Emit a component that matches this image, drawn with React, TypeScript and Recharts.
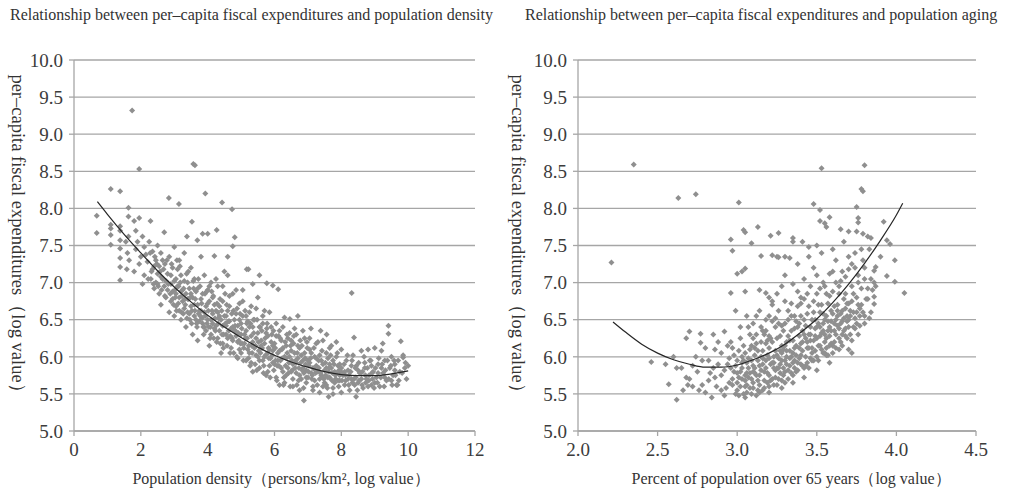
import { CartesianGrid, Scatter, ScatterChart, XAxis, YAxis } from "recharts";

const SERIF = "'Liberation Serif', 'Times New Roman', serif";
const TEXT = "#333";
const GRID = "#a6a6a6";
const DOT = "#8f8f8f";

const Y_TICKS = [5, 5.5, 6, 6.5, 7, 7.5, 8, 8.5, 9, 9.5, 10];
const DENSITY_TICKS = [0, 2, 4, 6, 8, 10, 12];
const AGING_TICKS = [2, 2.5, 3, 3.5, 4, 4.5];

const TITLE_DENSITY = "Relationship between per–capita fiscal expenditures and population density";
const TITLE_AGING = "Relationship between per–capita fiscal expenditures and population aging";
const Y_LABEL = "per–capita fiscal expenditures（log value）";
const X_LABEL_DENSITY = "Population density（persons/km², log value）";
const X_LABEL_AGING = "Percent of population over 65 years（log value）";

// [population density (log), expenditure (log)]
const densityPoints: [number, number][] = [
  [0.68, 7.9], [0.68, 7.67], [1.1, 8.26], [1.38, 8.23], [1.1, 7.78], [1.1, 7.73], [1.1, 7.64], [1.1, 7.51],
  [1.38, 7.76], [1.38, 7.7], [1.38, 7.57], [1.38, 7.46], [1.38, 7.33], [1.38, 7.21], [1.38, 7.03], [1.63, 8.01],
  [1.63, 7.89], [1.63, 7.62], [1.55, 7.55], [1.6, 7.4], [1.65, 7.3], [1.58, 7.18], [1.74, 9.32], [1.8, 7.83],
  [1.95, 7.87], [1.95, 8.53], [1.85, 7.7], [1.9, 7.55], [1.85, 7.45], [2.0, 7.35], [1.95, 7.25], [1.8, 7.15],
  [2.05, 7.62], [2.1, 7.48], [2.15, 7.38], [2.1, 7.1], [2.05, 6.98], [2.2, 7.28], [2.25, 7.55], [2.29, 7.83],
  [2.3, 7.05], [2.35, 7.42], [2.35, 7.18], [2.4, 6.92], [2.45, 7.3], [2.45, 7.0], [2.5, 7.5], [2.5, 7.12],
  [2.55, 6.85], [2.55, 7.22], [2.6, 7.4], [2.6, 6.7], [2.65, 7.05], [2.7, 7.68], [2.7, 6.95], [2.72, 7.25],
  [2.75, 6.8], [2.8, 7.12], [2.84, 8.14], [2.85, 6.6], [2.85, 7.35], [2.9, 6.98], [2.9, 6.75], [2.95, 7.2],
  [2.95, 6.88], [3.0, 7.48], [3.0, 6.55], [3.05, 7.05], [3.05, 6.68], [3.1, 6.95], [3.14, 8.06], [3.15, 7.3],
  [3.15, 6.8], [3.2, 6.5], [3.2, 7.1], [3.25, 6.9], [3.3, 7.4], [3.3, 6.65], [3.35, 6.4], [3.38, 7.62],
  [3.4, 7.0], [3.4, 6.78], [3.45, 6.58], [3.5, 7.2], [3.5, 6.85], [3.53, 7.82], [3.55, 6.3], [3.57, 8.6],
  [3.62, 8.58], [3.6, 6.7], [3.6, 7.05], [3.65, 6.5], [3.69, 7.57], [3.7, 6.92], [3.7, 6.22], [3.75, 6.62],
  [3.8, 7.35], [3.8, 6.78], [3.85, 6.45], [3.85, 7.66], [3.9, 7.1], [3.9, 6.6], [3.93, 8.2], [3.95, 6.35],
  [4.0, 6.9], [4.0, 6.72], [4.0, 7.66], [4.05, 6.15], [4.1, 6.5], [4.1, 7.0], [4.15, 6.8], [4.2, 7.36],
  [4.2, 6.38], [4.25, 6.62], [4.27, 7.71], [4.3, 6.25], [4.3, 6.95], [4.35, 6.55], [4.4, 6.05], [4.43, 8.08],
  [4.45, 6.75], [4.45, 6.42], [4.5, 7.15], [4.55, 6.3], [4.6, 6.62], [4.6, 7.35], [4.6, 7.1], [4.65, 6.48],
  [4.7, 6.12], [4.73, 7.99], [4.75, 7.49], [4.75, 6.85], [4.8, 6.35], [4.81, 7.61], [4.85, 6.58], [4.9, 5.98],
  [4.9, 6.2], [4.95, 6.72], [5.0, 6.45], [5.0, 6.05], [5.05, 6.9], [5.1, 6.3], [5.15, 6.55], [5.17, 7.18],
  [5.2, 6.1], [5.22, 7.18], [5.25, 6.4], [5.3, 5.92], [5.3, 6.68], [5.35, 6.98], [5.35, 6.2], [5.4, 6.5],
  [5.45, 6.02], [5.5, 6.32], [5.5, 6.8], [5.55, 7.1], [5.55, 5.85], [5.6, 6.15], [5.65, 6.45], [5.7, 6.0],
  [5.7, 6.62], [5.77, 6.99], [5.8, 5.8], [5.8, 6.28], [5.85, 6.1], [5.9, 6.4], [5.95, 6.96], [5.95, 5.92],
  [6.0, 6.18], [6.05, 5.72], [6.1, 6.05], [6.11, 6.91], [6.15, 6.35], [6.2, 5.85], [6.25, 6.12], [6.3, 6.53],
  [6.3, 5.65], [6.35, 5.98], [6.4, 6.25], [6.46, 6.51], [6.5, 5.8], [6.5, 6.08], [6.55, 5.6], [6.6, 6.38],
  [6.65, 5.92], [6.7, 6.55], [6.7, 6.15], [6.75, 5.75], [6.8, 6.02], [6.88, 5.41], [6.85, 5.85], [6.9, 6.25],
  [6.95, 5.65], [7.0, 5.95], [7.05, 6.1], [7.09, 6.38], [7.1, 5.78], [7.15, 5.55], [7.2, 6.0], [7.25, 5.88],
  [7.3, 6.2], [7.35, 5.7], [7.38, 6.35], [7.4, 5.95], [7.45, 5.6], [7.5, 5.82], [7.56, 6.3], [7.55, 6.05],
  [7.62, 5.46], [7.6, 5.72], [7.65, 5.9], [7.7, 6.15], [7.75, 5.58], [7.8, 5.8], [7.85, 6.0], [7.9, 5.68],
  [7.95, 5.9], [8.0, 5.52], [8.0, 6.1], [8.05, 5.75], [8.1, 5.62], [8.15, 5.95], [8.2, 5.82], [8.25, 5.55],
  [8.31, 6.86], [8.3, 5.7], [8.38, 6.26], [8.35, 6.02], [8.44, 5.46], [8.45, 5.88], [8.5, 5.65], [8.55, 5.78],
  [8.6, 6.08], [8.65, 5.58], [8.7, 5.85], [8.75, 5.7], [8.8, 6.1], [8.85, 5.95], [8.9, 5.62], [8.95, 5.8],
  [9.0, 6.12], [9.05, 5.72], [9.1, 5.9], [9.15, 5.6], [9.2, 6.08], [9.24, 6.18], [9.25, 5.78], [9.3, 5.95],
  [9.35, 5.68], [9.41, 6.42], [9.41, 6.31], [9.45, 5.85], [9.5, 6.0], [9.55, 5.75], [9.6, 5.9], [9.65, 5.62],
  [9.68, 5.62], [9.7, 5.95], [9.75, 5.8], [9.78, 6.21], [9.85, 6.02], [9.85, 5.99], [9.9, 5.85], [9.95, 5.7],
  [10.0, 5.88],
  // dense core along the fitted line
  [2.4, 7.22], [2.5, 6.98], [2.6, 7.08], [2.65, 7.3], [2.75, 7.02], [2.8, 6.9], [2.9, 7.1], [2.95, 6.78],
  [3.0, 7.02], [3.05, 6.85], [3.1, 7.18], [3.15, 6.62], [3.2, 6.88], [3.25, 6.75], [3.3, 7.02], [3.35, 6.85],
  [3.4, 6.6], [3.45, 6.92], [3.5, 6.68], [3.55, 6.8], [3.6, 6.55], [3.65, 6.88], [3.7, 6.7], [3.75, 6.48],
  [3.8, 6.62], [3.85, 6.85], [3.9, 6.4], [3.95, 6.68], [4.0, 6.5], [4.05, 6.75], [4.1, 6.3], [4.15, 6.58],
  [4.2, 6.7], [4.25, 6.42], [4.3, 6.6], [4.35, 6.35], [4.4, 6.5], [4.45, 6.18], [4.5, 6.55], [4.55, 6.42],
  [4.6, 6.25], [4.65, 6.68], [4.7, 6.38], [4.75, 6.22], [4.8, 6.5], [4.85, 6.28], [4.9, 6.42], [4.95, 6.1],
  [5.0, 6.3], [5.05, 6.55], [5.1, 6.18], [5.15, 6.35], [5.2, 6.48], [5.25, 6.05], [5.3, 6.28], [5.35, 6.4],
  [5.4, 6.12], [5.45, 6.25], [5.5, 6.0], [5.55, 6.4], [5.6, 6.22], [5.65, 5.95], [5.7, 6.18], [5.75, 6.32],
  [5.8, 6.05], [5.85, 5.88], [5.9, 6.2], [5.95, 6.08], [6.0, 5.9], [6.05, 6.28], [6.1, 5.95], [6.15, 6.08],
  [6.2, 6.22], [6.25, 5.8], [6.3, 6.0], [6.35, 6.15], [6.4, 5.85], [6.45, 6.0], [6.5, 6.22], [6.55, 5.9],
  [6.6, 6.05], [6.65, 5.78], [6.7, 5.98], [6.75, 6.12], [6.8, 5.7], [6.85, 5.95], [6.9, 6.05], [6.95, 5.82],
  [7.0, 5.72], [7.05, 5.92], [7.1, 6.05], [7.15, 5.85], [7.2, 5.68], [7.25, 5.98], [7.3, 5.8], [7.35, 6.02],
  [7.4, 5.75], [7.45, 5.9], [7.5, 5.65], [7.55, 5.85], [7.6, 5.98], [7.65, 5.72], [7.7, 5.85], [7.75, 5.95],
  [7.8, 5.65], [7.85, 5.78], [7.9, 5.88], [7.95, 5.75], [8.0, 5.85], [8.1, 5.8], [8.2, 5.7], [8.3, 5.88],
  [8.4, 5.62], [8.5, 5.82], [8.6, 5.7], [8.7, 5.92], [8.8, 5.6], [8.9, 5.88], [9.0, 5.65], [9.1, 5.78],
  [9.2, 5.85], [9.3, 5.72], [9.5, 5.68], [9.6, 5.82],
  [2.22, 7.05], [2.28, 7.4], [2.32, 7.15], [2.38, 6.98], [2.42, 7.35], [2.48, 7.25], [2.52, 6.95], [2.58, 7.15],
  [2.62, 6.9], [2.68, 7.18], [2.72, 6.82], [2.78, 7.3], [2.82, 6.98], [2.88, 6.85], [2.92, 7.25], [2.98, 6.7],
  [3.02, 6.9], [3.08, 7.3], [3.12, 6.72], [3.18, 7.0], [3.22, 6.6], [3.28, 6.92], [3.32, 6.78], [3.38, 6.52],
  [3.42, 7.15], [3.48, 6.8], [3.52, 6.45], [3.58, 6.92], [3.62, 6.62], [3.68, 6.4], [3.72, 7.05], [3.78, 6.55],
  [3.82, 6.72], [3.88, 6.3], [3.92, 6.85], [3.98, 6.45],
  [4.02, 6.62], [4.08, 6.4], [4.12, 6.88], [4.18, 6.25], [4.22, 6.52], [4.28, 6.72], [4.32, 6.45], [4.38, 6.18],
  [4.42, 6.62], [4.48, 6.3], [4.52, 6.85], [4.58, 6.15], [4.62, 6.48], [4.68, 6.28], [4.72, 6.58], [4.78, 6.05],
  [4.82, 6.42], [4.88, 6.65], [4.92, 6.32], [4.98, 6.18], [4.05, 6.95], [4.25, 7.05], [4.45, 6.95], [4.65, 6.82],
  [4.85, 6.9], [4.15, 6.45], [4.35, 6.68], [4.55, 6.55], [4.75, 6.4], [4.95, 6.5],
  [5.02, 6.38], [5.08, 6.12], [5.12, 6.62], [5.18, 6.25], [5.22, 5.98], [5.28, 6.45], [5.32, 6.15], [5.38, 6.32],
  [5.42, 5.9], [5.48, 6.5], [5.52, 6.2], [5.58, 6.05], [5.62, 6.35], [5.68, 5.88], [5.72, 6.25], [5.78, 6.45],
  [5.82, 6.12], [5.88, 5.98], [5.92, 6.3], [5.98, 5.82], [5.05, 6.75], [5.25, 6.6], [5.45, 6.65], [5.65, 6.55],
  [5.85, 6.6], [5.15, 5.95], [5.35, 5.8], [5.55, 5.95], [5.75, 5.75], [5.95, 6.15],
  [6.02, 6.12], [6.08, 5.88], [6.12, 6.28], [6.18, 5.95], [6.22, 6.1], [6.28, 5.72], [6.32, 6.2], [6.38, 6.05],
  [6.42, 5.78], [6.48, 6.15], [6.52, 5.95], [6.58, 6.28], [6.62, 5.85], [6.68, 6.05], [6.72, 5.68], [6.78, 5.92],
  [6.82, 6.15], [6.88, 5.78], [6.92, 5.98], [6.98, 6.12], [6.05, 6.45], [6.25, 6.4], [6.45, 6.32], [6.65, 6.3],
  [6.85, 6.35], [6.15, 5.62], [6.35, 5.75], [6.55, 5.7], [6.75, 5.55], [6.95, 5.72],
  [7.02, 5.8], [7.08, 5.98], [7.12, 5.7], [7.18, 6.12], [7.22, 5.82], [7.28, 5.62], [7.32, 5.95], [7.38, 5.78],
  [7.42, 6.08], [7.48, 5.7], [7.52, 5.92], [7.58, 5.58], [7.62, 5.8], [7.68, 6.02], [7.72, 5.68], [7.78, 5.9],
  [7.82, 5.75], [7.88, 6.05], [7.92, 5.6], [7.98, 5.8], [7.05, 6.25], [7.25, 6.18], [7.45, 6.22], [7.65, 6.12],
  [7.85, 6.2], [7.15, 5.6], [7.35, 5.52], [7.55, 5.62], [7.75, 5.5], [7.95, 5.68],
  [8.02, 5.68], [8.08, 5.9], [8.12, 5.75], [8.18, 6.02], [8.22, 5.62], [8.28, 5.8], [8.32, 5.95], [8.38, 5.7],
  [8.42, 5.85], [8.48, 5.55], [8.52, 5.92], [8.58, 5.78], [8.62, 5.62], [8.68, 6.0], [8.72, 5.75], [8.78, 5.85],
  [8.82, 5.68], [8.88, 5.95], [8.92, 5.78], [8.98, 5.58], [9.02, 5.85], [9.08, 5.65], [9.12, 5.98], [9.18, 5.72],
  [9.22, 5.9], [9.28, 5.6], [9.32, 5.82], [9.38, 5.95], [9.42, 5.7], [9.48, 5.88], [9.52, 5.62], [9.58, 5.95],
  [9.62, 5.75], [9.72, 5.68], [9.82, 5.78], [9.92, 5.92],
  [3.03, 6.8], [3.13, 6.95], [3.23, 6.82], [3.33, 6.7], [3.43, 6.78], [3.53, 6.62], [3.63, 6.78], [3.73, 6.58],
  [3.83, 6.52], [3.93, 6.55], [4.03, 6.4], [4.13, 6.62], [4.23, 6.35], [4.33, 6.52], [4.43, 6.3], [4.53, 6.45],
  [4.63, 6.35], [4.73, 6.25], [4.83, 6.35], [4.93, 6.22], [5.03, 6.18], [5.13, 6.25], [5.23, 6.15], [5.33, 6.05],
  [5.43, 6.15], [5.53, 6.08], [5.63, 6.12], [5.73, 6.02], [5.83, 5.98], [5.93, 6.02], [6.03, 5.95], [6.13, 5.88],
  [6.23, 5.98], [6.33, 5.88], [6.43, 5.92], [6.53, 5.82], [6.63, 5.95], [6.73, 5.85], [6.83, 5.82], [6.93, 5.9],
  [7.03, 5.88], [7.13, 5.75], [7.23, 5.78], [7.33, 5.85], [7.43, 5.72], [7.53, 5.75], [7.63, 5.85], [7.73, 5.78],
  [7.83, 5.7], [7.93, 5.82], [8.03, 5.78], [8.13, 5.68], [8.23, 5.75], [8.33, 5.65], [8.43, 5.72], [8.53, 5.68],
  [8.63, 5.8], [8.73, 5.65], [8.83, 5.75], [8.93, 5.7],
  [3.07, 6.62], [3.27, 6.58], [3.47, 6.5], [3.67, 6.45], [3.87, 6.4], [4.07, 6.25], [4.27, 6.2], [4.47, 6.12],
  [4.67, 6.05], [4.87, 6.0], [5.07, 5.95], [5.27, 5.88], [5.47, 5.82], [5.67, 5.78], [5.87, 5.72], [6.07, 5.68],
  [6.27, 5.62], [6.47, 5.6], [6.67, 5.62], [6.87, 5.58],
  [3.17, 7.22], [3.37, 7.12], [3.57, 7.02], [3.77, 6.95], [3.97, 6.88], [4.17, 6.82], [4.37, 6.78], [4.57, 6.7],
  [4.77, 6.62], [4.97, 6.58], [5.17, 6.45], [5.37, 6.5], [5.57, 6.4], [5.77, 6.38], [5.97, 6.35], [6.17, 6.25],
  [6.37, 6.3], [6.57, 6.18], [6.77, 6.22], [6.97, 6.2],
];

// fitted curve, read at intervals
const densityCurve: [number, number][] = [
  [0.7, 8.09], [1.0, 7.92], [1.5, 7.65], [2.0, 7.4], [2.5, 7.16], [3.0, 6.94], [3.5, 6.74], [4.0, 6.56],
  [4.5, 6.4], [5.0, 6.26], [5.5, 6.13], [6.0, 6.02], [6.5, 5.93], [7.0, 5.86], [7.5, 5.8], [8.0, 5.76],
  [8.5, 5.745], [9.0, 5.745], [9.5, 5.77], [10.0, 5.81],
];

// [share aged 65+ (log), expenditure (log)]
const agingPoints: [number, number][] = [
  [2.21, 7.27], [2.35, 8.59], [2.63, 8.14], [2.74, 8.19], [3.01, 8.08], [2.46, 5.93], [2.57, 5.63], [2.62, 5.42],
  [2.66, 5.55], [2.69, 5.62], [2.72, 5.6], [2.62, 5.85], [2.65, 5.85], [2.68, 6.25], [2.7, 6.34], [2.77, 6.31],
  [2.77, 6.19], [2.85, 6.3], [2.88, 6.2], [2.92, 6.34], [2.96, 7.58], [2.97, 7.43], [3.04, 7.71], [3.05, 7.68],
  [3.13, 7.75], [3.09, 7.53], [3.15, 7.36], [3.21, 7.63], [3.26, 7.67], [3.35, 7.6], [3.22, 7.37], [3.26, 7.34],
  [3.0, 7.12], [3.03, 7.15], [3.05, 7.19], [2.96, 6.86], [3.05, 6.88], [2.99, 6.62], [3.14, 6.9], [3.18, 6.86],
  [3.2, 6.8], [3.22, 6.75],
  [2.55, 5.9], [2.6, 6.0], [2.7, 5.7], [2.75, 5.8], [2.78, 5.95], [2.8, 5.52], [2.82, 5.68], [2.85, 5.85],
  [2.87, 5.6], [2.9, 5.75], [2.9, 6.05], [2.92, 5.48], [2.94, 5.9], [2.95, 5.65], [2.97, 6.12], [2.98, 5.8],
  [3.0, 5.55], [3.0, 5.95], [3.01, 5.72], [3.02, 6.25], [3.03, 5.85], [3.04, 5.5], [3.05, 6.05], [3.05, 5.68],
  [3.06, 5.92], [3.07, 6.4], [3.08, 5.78], [3.08, 5.58], [3.09, 6.15], [3.1, 5.88], [3.1, 5.65], [3.11, 6.02],
  [3.12, 6.55], [3.12, 5.75], [3.13, 5.95], [3.14, 5.52], [3.15, 6.2], [3.15, 5.82], [3.16, 6.08], [3.17, 5.68],
  [3.18, 5.95], [3.18, 6.35], [3.19, 5.78], [3.2, 6.12], [3.2, 5.6], [3.21, 5.9], [3.22, 6.48], [3.23, 6.0],
  [3.24, 5.72], [3.25, 6.25], [3.25, 5.85], [3.26, 6.62], [3.27, 6.08], [3.28, 5.95], [3.28, 5.68], [3.29, 6.35],
  [3.3, 6.15], [3.3, 5.8], [3.31, 6.0], [3.32, 6.5], [3.33, 6.22], [3.33, 5.88], [3.34, 6.72], [3.35, 6.05],
  [3.35, 5.75], [3.36, 6.38], [3.37, 6.15], [3.38, 6.88], [3.38, 5.92], [3.39, 6.28], [3.4, 6.55], [3.4, 6.02],
  [3.41, 6.2], [3.42, 7.05], [3.42, 5.85], [3.43, 6.42], [3.44, 6.12], [3.45, 6.68], [3.45, 6.3], [3.46, 5.98],
  [3.47, 6.5], [3.48, 6.22], [3.48, 7.2], [3.49, 6.08], [3.5, 6.4], [3.5, 6.85], [3.51, 6.15], [3.52, 6.6],
  [3.53, 6.32], [3.53, 7.4], [3.54, 6.05], [3.55, 6.5], [3.55, 6.95], [3.56, 6.25], [3.57, 6.72], [3.58, 6.4],
  [3.58, 7.12], [3.59, 6.18], [3.6, 6.58], [3.6, 6.88], [3.61, 6.35], [3.62, 7.3], [3.62, 6.5], [3.63, 6.7],
  [3.64, 6.25], [3.65, 7.02], [3.65, 6.45], [3.66, 6.62], [3.67, 7.55], [3.68, 6.38], [3.68, 6.85], [3.69, 6.55],
  [3.7, 7.18], [3.7, 6.72], [3.71, 6.3], [3.72, 6.05], [3.72, 6.95], [3.73, 6.6], [3.74, 7.4], [3.75, 6.8],
  [3.75, 6.45], [3.76, 7.1], [3.77, 6.65], [3.78, 6.92], [3.79, 7.3], [3.8, 6.55], [3.8, 7.05], [3.82, 6.78],
  [3.83, 7.45], [3.85, 6.9], [3.86, 6.71], [3.87, 6.95], [3.87, 7.21], [3.86, 7.16], [3.86, 6.81], [3.9, 7.35],
  [3.92, 7.82], [3.94, 7.57], [3.96, 7.52], [3.94, 7.09], [3.99, 7.01], [3.99, 7.3], [4.05, 6.86], [3.55, 6.05],
  [3.64, 6.1], [3.7, 6.1],
  [3.48, 8.06], [3.52, 7.98], [3.53, 8.54], [3.8, 8.58], [3.78, 8.26], [3.79, 8.23], [3.75, 8.02], [3.76, 7.87],
  [3.76, 7.81], [3.52, 7.83], [3.55, 7.8], [3.58, 7.88], [3.56, 7.75], [3.65, 7.72], [3.7, 7.69], [3.75, 7.69],
  [3.79, 7.66], [3.82, 7.62], [3.84, 7.6], [3.41, 7.55], [3.35, 7.55], [3.25, 7.35], [3.3, 7.35], [3.33, 7.33],
  [3.45, 7.35], [3.5, 7.5], [3.6, 7.45], [3.45, 7.48], [3.38, 7.25], [3.3, 7.1], [3.28, 6.95], [3.35, 6.98],
  [3.25, 6.85], [3.4, 6.8], [3.2, 6.55], [3.15, 6.4],
  [3.0, 5.65], [3.02, 5.8], [3.03, 6.0], [3.05, 5.6], [3.06, 5.78], [3.07, 5.98], [3.09, 5.7], [3.1, 6.25],
  [3.11, 5.85], [3.13, 6.08], [3.14, 5.62], [3.16, 5.9], [3.17, 6.3], [3.19, 6.02], [3.2, 5.75], [3.22, 6.2],
  [3.23, 5.85], [3.24, 6.4], [3.26, 5.98], [3.27, 5.78], [3.29, 6.1], [3.3, 6.45], [3.31, 5.9], [3.32, 6.28],
  [3.34, 6.0], [3.36, 5.85], [3.37, 6.48], [3.39, 6.12], [3.41, 6.35], [3.43, 6.0], [3.44, 6.58], [3.46, 6.22],
  [3.47, 5.95], [3.49, 6.38], [3.51, 6.7], [3.52, 6.28], [3.54, 6.45], [3.56, 6.12], [3.57, 6.35], [3.59, 6.62],
  [3.61, 6.2], [3.63, 6.42], [3.66, 6.3], [3.67, 6.78], [3.69, 6.48], [3.71, 6.62], [3.74, 6.38], [3.77, 6.55],
  [2.93, 5.58], [2.95, 5.98], [2.97, 5.7], [2.99, 5.5], [2.96, 6.2], [2.88, 5.9], [2.84, 5.45], [2.86, 6.1],
  [2.76, 5.55], [2.8, 6.12], [2.74, 6.0], [2.83, 5.78],
  [2.96, 5.85], [2.98, 6.02], [3.0, 5.78], [3.01, 6.08], [3.02, 5.6], [3.03, 5.92], [3.04, 6.15], [3.05, 5.75],
  [3.06, 5.52], [3.07, 5.85], [3.08, 6.1], [3.09, 5.95], [3.1, 5.58], [3.11, 5.78], [3.12, 6.3], [3.13, 5.68],
  [3.14, 5.88], [3.15, 6.0], [3.16, 5.55], [3.17, 5.8], [3.18, 6.18], [3.19, 5.65], [3.2, 5.98], [3.21, 6.25],
  [3.22, 5.7], [3.23, 5.92], [3.24, 6.08], [3.25, 5.62], [3.26, 5.85], [3.27, 6.28], [3.28, 6.05], [3.29, 5.75],
  [3.3, 5.95], [3.31, 6.2], [3.32, 5.7], [3.33, 6.08], [3.34, 6.35], [3.35, 5.92], [3.36, 6.12], [3.37, 5.8],
  [3.38, 6.4], [3.39, 5.98], [3.4, 6.18], [3.41, 5.88], [3.42, 6.5], [3.43, 6.25], [3.44, 5.92], [3.45, 6.12],
  [3.46, 6.4], [3.47, 6.05], [3.48, 6.6], [3.49, 6.28], [3.5, 6.0], [3.51, 6.45], [3.52, 6.15], [3.53, 6.7],
  [3.54, 6.35], [3.55, 6.2], [3.56, 6.55], [3.57, 6.02], [3.58, 6.28], [3.59, 6.48], [3.6, 6.15], [3.61, 6.68],
  [3.62, 6.3], [3.63, 6.55], [3.64, 6.85], [3.65, 6.2], [3.66, 6.48], [3.67, 6.35], [3.68, 6.65], [3.69, 6.25],
  [3.7, 6.5], [3.72, 6.75], [3.73, 6.4], [3.75, 6.6], [3.76, 6.3], [3.78, 6.7], [3.8, 6.45], [3.82, 6.92],
  [3.84, 6.6], [3.86, 7.0],
  [3.02, 6.4], [3.06, 6.55], [3.1, 6.45], [3.14, 6.62], [3.18, 6.5], [3.22, 6.7], [3.26, 6.45], [3.3, 6.75],
  [3.34, 6.55], [3.38, 6.68], [3.42, 6.78], [3.46, 6.95], [3.5, 7.1], [3.54, 7.0], [3.58, 6.82], [3.62, 7.0],
  [3.66, 7.15], [3.7, 7.35], [3.74, 7.2], [3.78, 7.45],
  [2.9, 5.55], [2.92, 5.82], [2.94, 6.15], [2.86, 5.72], [2.82, 5.95], [2.78, 5.62], [2.72, 5.88], [2.68, 5.72],
  [3.05, 5.45], [3.12, 5.48], [3.2, 5.52], [3.28, 5.58], [3.35, 5.65], [3.42, 5.72], [3.5, 5.82], [3.58, 5.92],
  [2.97, 5.62], [2.99, 5.88], [3.01, 5.48], [3.03, 5.7], [3.04, 5.95], [3.06, 5.62], [3.07, 5.72], [3.09, 5.5],
  [3.1, 5.8], [3.11, 6.12], [3.13, 5.55], [3.14, 5.75], [3.16, 5.98], [3.17, 5.58], [3.18, 5.85], [3.19, 6.22],
  [3.21, 5.68], [3.22, 5.92], [3.23, 5.62], [3.24, 5.82], [3.25, 6.02], [3.26, 5.7], [3.27, 5.9], [3.28, 6.15],
  [3.29, 5.85], [3.3, 5.65], [3.31, 6.08], [3.32, 5.82], [3.33, 5.98], [3.34, 5.78], [3.35, 6.22], [3.36, 5.95],
  [3.37, 6.02], [3.38, 5.82], [3.39, 6.45], [3.4, 5.9], [3.41, 6.08], [3.42, 6.3], [3.43, 5.88], [3.44, 6.2],
  [3.45, 5.85], [3.46, 6.3], [3.47, 6.12], [3.48, 5.95], [3.49, 6.5], [3.5, 6.25], [3.51, 5.95], [3.52, 6.4],
  [3.53, 6.1], [3.54, 6.58], [3.55, 6.3], [3.56, 6.02], [3.57, 6.48], [3.58, 6.15], [3.59, 6.35], [3.6, 6.05],
  [3.61, 6.45], [3.62, 6.12], [3.63, 6.62], [3.64, 6.38], [3.65, 6.58], [3.66, 6.15], [3.67, 6.52], [3.68, 6.28],
  [3.69, 6.72], [3.7, 6.4], [3.71, 6.55], [3.72, 6.22], [3.73, 6.85], [3.74, 6.52], [3.76, 6.7], [3.77, 6.42],
  [3.79, 6.6], [3.81, 6.78], [3.83, 6.52],
  [3.08, 6.3], [3.12, 6.18], [3.16, 6.35], [3.2, 6.28], [3.24, 6.52], [3.28, 6.42], [3.32, 6.62], [3.36, 6.55],
  [3.4, 6.72], [3.44, 6.85], [3.48, 6.75], [3.52, 6.92], [3.56, 6.85], [3.6, 7.15], [3.64, 6.95], [3.68, 7.08],
  [3.72, 7.25], [3.76, 7.0], [3.8, 7.2], [3.84, 7.05],
];

const agingCurve: [number, number][] = [
  [2.22, 6.47], [2.3, 6.33], [2.4, 6.17], [2.5, 6.05], [2.6, 5.96], [2.7, 5.9], [2.8, 5.86], [2.9, 5.86],
  [3.0, 5.89], [3.1, 5.96], [3.2, 6.05], [3.3, 6.17], [3.4, 6.33], [3.5, 6.51], [3.6, 6.73], [3.7, 6.98],
  [3.8, 7.26], [3.9, 7.57], [4.0, 7.91], [4.04, 8.07],
];

const toRows = (pts: [number, number][]) => pts.map(([x, y]) => ({ x, y }));

const Marker = (p: any) => {
  const { cx, cy } = p;
  if (cx == null || cy == null) return <g />;
  const r = 3;
  return <path d={`M${cx},${cy - r}L${cx + r},${cy}L${cx},${cy + r}L${cx - r},${cy}Z`} fill={DOT} />;
};
const NoMarker = () => <g />;

const tickStyle = { fontSize: 19, fill: "#3c3c3c", fontFamily: SERIF };

function Panel(props: {
  left: number;
  width: number;
  plotLeft: number;
  plotRight: number;
  titleLeft: number;
  xLabelMid: number;
  title: string;
  xLabel: string;
  xTicks: number[];
  xFmt: (v: number) => string;
  points: [number, number][];
  curve: [number, number][];
}) {
  const { left, width, plotLeft, plotRight, titleLeft, xLabelMid, title, xLabel, xTicks, xFmt, points, curve } = props;
  return (
    <div style={{ position: "absolute", left, top: 0, width, height: 489 }}>
      <div
        style={{ position: "absolute", left: titleLeft, top: 6, fontFamily: SERIF, fontSize: 16, color: TEXT, whiteSpace: "nowrap" }}
      >
        {title}
      </div>
      <ScatterChart width={width} height={489} margin={{ top: 60, right: width - plotRight, bottom: 28, left: 0 }}>
        <CartesianGrid vertical={false} stroke={GRID} strokeWidth={1.3} />
        <XAxis
          type="number"
          dataKey="x"
          domain={[xTicks[0], xTicks[xTicks.length - 1]]}
          ticks={xTicks}
          tickFormatter={xFmt}
          height={30}
          tick={tickStyle}
          tickSize={5}
          tickMargin={7}
          axisLine={{ stroke: GRID, strokeWidth: 1.3 }}
          tickLine={{ stroke: GRID, strokeWidth: 1.3 }}
        />
        <YAxis
          type="number"
          dataKey="y"
          domain={[5, 10]}
          ticks={Y_TICKS}
          tickFormatter={(v: number) => v.toFixed(1)}
          width={plotLeft}
          tick={tickStyle}
          tickSize={5}
          tickMargin={6}
          axisLine={{ stroke: GRID, strokeWidth: 1.3 }}
          tickLine={{ stroke: GRID, strokeWidth: 1.3 }}
        />
        <Scatter data={toRows(points)} shape={Marker} isAnimationActive={false} />
        <Scatter
          data={toRows(curve)}
          shape={NoMarker}
          line={{ stroke: "#262626", strokeWidth: 1.2 }}
          lineJointType="monotoneX"
          isAnimationActive={false}
        />
      </ScatterChart>
      <div
        style={{
          position: "absolute",
          left: 18,
          top: 238,
          transform: "translate(-50%, -50%) rotate(90deg)",
          fontFamily: SERIF,
          fontSize: 18.5,
          color: TEXT,
          whiteSpace: "nowrap",
        }}
      >
        {Y_LABEL}
      </div>
      <div
        style={{
          position: "absolute",
          left: xLabelMid,
          top: 479,
          transform: "translate(-50%, -50%)",
          fontFamily: SERIF,
          fontSize: 16,
          color: TEXT,
          whiteSpace: "nowrap",
        }}
      >
        {xLabel}
      </div>
    </div>
  );
}

export default function App() {
  return (
    <div style={{ position: "absolute", left: 0, top: 0, width: 1009, height: 489, background: "#fff", overflow: "hidden" }}>
      <Panel
        left={0}
        width={500}
        plotLeft={74}
        plotRight={475}
        titleLeft={10}
        xLabelMid={281}
        title={TITLE_DENSITY}
        xLabel={X_LABEL_DENSITY}
        xTicks={DENSITY_TICKS}
        xFmt={(v) => String(v)}
        points={densityPoints}
        curve={densityCurve}
      />
      <Panel
        left={500}
        width={509}
        plotLeft={78}
        plotRight={476}
        titleLeft={25}
        xLabelMid={291}
        title={TITLE_AGING}
        xLabel={X_LABEL_AGING}
        xTicks={AGING_TICKS}
        xFmt={(v) => v.toFixed(1)}
        points={agingPoints}
        curve={agingCurve}
      />
    </div>
  );
}
